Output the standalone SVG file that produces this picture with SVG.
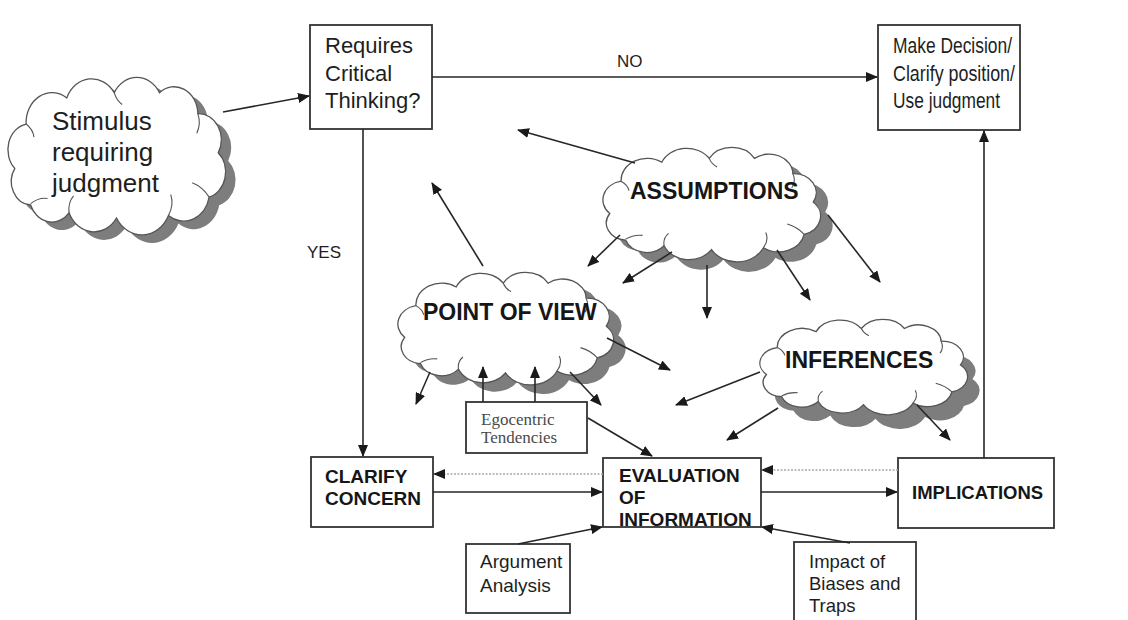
<svg xmlns="http://www.w3.org/2000/svg" xmlns:xlink="http://www.w3.org/1999/xlink" width="1128" height="620" viewBox="0 0 1128 620">
  <style>
    .box { fill: #ffffff; stroke: #333333; stroke-width: 1.8; }
    .cloud { fill: #ffffff; stroke: #555555; stroke-width: 1.3; }
    .cloud-shadow { fill: #7d7d7d; stroke: none; }
    .cloud-inner { fill: none; stroke: #555555; stroke-width: 1.1; }
    .t { font-family: "Liberation Sans", Arial, sans-serif; fill: #1e1e1e; }
    .tb { font-family: "Liberation Sans", Arial, sans-serif; font-weight: 700; fill: #161616; }
    .ts { font-family: "Liberation Serif", "Times New Roman", serif; fill: #4a4a4a; }
    .conn { fill: none; stroke: #262626; stroke-width: 1.6; marker-end: url(#arrow); }
    .conn-plain { fill: none; stroke: #262626; stroke-width: 1.6; }
    .dotted { fill: none; stroke: #a8a8a8; stroke-width: 1.4; stroke-dasharray: 2 1.5; marker-end: url(#arrow); }
  </style>
  <defs>
    <marker id="arrow" viewBox="0 0 12 10" refX="11" refY="5" markerWidth="12" markerHeight="10" markerUnits="userSpaceOnUse" orient="auto">
      <path d="M0,0 L12,5 L0,10 Z" fill="#1a1a1a"/>
    </marker>
    <!-- cloud outline in a 200 x 121 unit box -->
    <path id="cloud" vector-effect="non-scaling-stroke" d="M10,70 A20,20 0 0 1 20,36 A23,23 0 0 1 56,16 A24,24 0 0 1 98,12 A23,23 0 0 1 138,12 A21,21 0 0 1 172,28 A20,20 0 0 1 190,58 A20,20 0 0 1 182,92 A23,23 0 0 1 146,106 A26,26 0 0 1 100,108 A24,24 0 0 1 58,104 A20,20 0 0 1 24,98 A18,18 0 0 1 10,70 Z"/>
    <path id="cloud-lines" vector-effect="non-scaling-stroke" d="M24,97 Q31,92 39,93 M58,104 Q57,96 62,91 M146,106 Q151,98 148,90 M182,92 Q176,84 167,81 M172,28 Q175,36 171,43 M98,12 Q100,18 105,21 M20,36 Q26,40 27,46"/>
  </defs>

  <!-- clouds -->
  <g id="stimulus">
    <use xlink:href="#cloud" class="cloud-shadow" transform="translate(13.5,85) scale(1.13,1.306)"/>
    <use xlink:href="#cloud" class="cloud" transform="translate(3.5,77) scale(1.13,1.306)"/>
    <use xlink:href="#cloud-lines" class="cloud-inner" transform="translate(3.5,77) scale(1.13,1.306)"/>
    <text class="t" font-size="26" x="52" y="130">Stimulus</text>
    <text class="t" font-size="26" x="52" y="161">requiring</text>
    <text class="t" font-size="26" x="52" y="192">judgment</text>
  </g>

  <g id="assumptions">
    <use xlink:href="#cloud" class="cloud-shadow" transform="translate(610.5,157) scale(1.13,0.95)"/>
    <use xlink:href="#cloud" class="cloud" transform="translate(598.5,147) scale(1.13,0.95)"/>
    <use xlink:href="#cloud-lines" class="cloud-inner" transform="translate(598.5,147) scale(1.13,0.95)"/>
    <text class="tb" font-size="23" x="630" y="199">ASSUMPTIONS</text>
  </g>

  <g id="point-of-view">
    <use xlink:href="#cloud" class="cloud-shadow" transform="translate(405.5,281) scale(1.12,0.934)"/>
    <use xlink:href="#cloud" class="cloud" transform="translate(393.5,272) scale(1.12,0.934)"/>
    <use xlink:href="#cloud-lines" class="cloud-inner" transform="translate(393.5,272) scale(1.12,0.934)"/>
    <text class="tb" font-size="23" x="423" y="320">POINT OF VIEW</text>
  </g>

  <g id="inferences">
    <use xlink:href="#cloud" class="cloud-shadow" transform="translate(767.7,333) scale(1.078,0.793)"/>
    <use xlink:href="#cloud" class="cloud" transform="translate(755.7,319) scale(1.078,0.793)"/>
    <use xlink:href="#cloud-lines" class="cloud-inner" transform="translate(755.7,319) scale(1.078,0.793)"/>
    <text class="tb" font-size="23" x="785" y="368">INFERENCES</text>
  </g>

  <!-- boxes -->
  <g id="requires-critical-thinking">
    <rect class="box" x="310" y="25" width="122" height="104"/>
    <text class="t" font-size="22" x="325" y="53">Requires</text>
    <text class="t" font-size="22" x="325" y="81">Critical</text>
    <text class="t" font-size="22" x="325" y="108">Thinking?</text>
  </g>

  <g id="make-decision">
    <rect class="box" x="878" y="25" width="142" height="105"/>
    <text class="t" font-size="22" x="893" y="53" textLength="119" lengthAdjust="spacingAndGlyphs">Make Decision/</text>
    <text class="t" font-size="22" x="893" y="81" textLength="122" lengthAdjust="spacingAndGlyphs">Clarify position/</text>
    <text class="t" font-size="22" x="893" y="108" textLength="107" lengthAdjust="spacingAndGlyphs">Use judgment</text>
  </g>

  <g id="clarify-concern">
    <rect class="box" x="311" y="457" width="122" height="70"/>
    <text class="tb" font-size="19" x="325" y="483">CLARIFY</text>
    <text class="tb" font-size="19" x="325" y="505">CONCERN</text>
  </g>

  <g id="evaluation">
    <rect class="box" x="603" y="458" width="158" height="69"/>
    <text class="tb" font-size="19" x="619" y="482">EVALUATION</text>
    <text class="tb" font-size="19" x="619" y="504">OF</text>
    <text class="tb" font-size="19" x="619" y="526">INFORMATION</text>
  </g>

  <g id="implications">
    <rect class="box" x="898" y="458" width="156" height="70"/>
    <text class="tb" font-size="18.5" x="912" y="499">IMPLICATIONS</text>
  </g>

  <g id="egocentric">
    <rect class="box" x="466" y="402" width="121" height="51"/>
    <text class="ts" font-size="17" x="481" y="425">Egocentric</text>
    <text class="ts" font-size="17" x="481" y="443">Tendencies</text>
  </g>

  <g id="argument-analysis">
    <rect class="box" x="466" y="544" width="104" height="69"/>
    <text class="t" font-size="19" x="480" y="568">Argument</text>
    <text class="t" font-size="19" x="480" y="592">Analysis</text>
  </g>

  <g id="impact-of-biases">
    <rect class="box" x="794" y="542" width="122" height="90"/>
    <text class="t" font-size="18.5" x="809" y="568">Impact of</text>
    <text class="t" font-size="18.5" x="809" y="590">Biases and</text>
    <text class="t" font-size="18.5" x="809" y="612">Traps</text>
  </g>

  <!-- connectors -->
  <g id="connectors">
    <path class="conn" d="M223,112 L309,96"/>
    <path class="conn" d="M432,77 L877,77"/>
    <text class="t" font-size="17" x="617" y="67">NO</text>
    <path class="conn" d="M363,129 L363,456"/>
    <text class="t" font-size="17" x="307" y="258">YES</text>

    <path class="conn" d="M433,492 L602,492"/>
    <path class="dotted" d="M603,474 L434,474"/>
    <path class="conn" d="M761,492 L897,492"/>
    <path class="dotted" d="M898,470 L762,470"/>
    <path class="conn" d="M984,458 L984,131"/>

    <path class="conn" d="M518,544 L602,527"/>
    <path class="conn" d="M850,543 L762,527"/>
    <path class="conn" d="M588,418 L652,456"/>
    <path class="conn" d="M483,402 L483,367"/>
    <path class="conn" d="M535,402 L535,367"/>

    <path class="conn" d="M483,266 L432,183"/>
    <path class="conn" d="M430,372 L416,404"/>
    <path class="conn" d="M570,372 L601,405"/>
    <path class="conn" d="M607,338 L670,370"/>

    <path class="conn" d="M635,163 L518,130"/>
    <path class="conn" d="M620,235 L588,266"/>
    <path class="conn" d="M672,252 L623,283"/>
    <path class="conn" d="M707,265 L707,318"/>
    <path class="conn" d="M777,250 L810,300"/>
    <path class="conn" d="M828,215 L880,282"/>

    <path class="conn" d="M760,372 L676,405"/>
    <path class="conn" d="M778,408 L727,440"/>
    <path class="conn" d="M917,405 L950,440"/>
  </g>
</svg>
